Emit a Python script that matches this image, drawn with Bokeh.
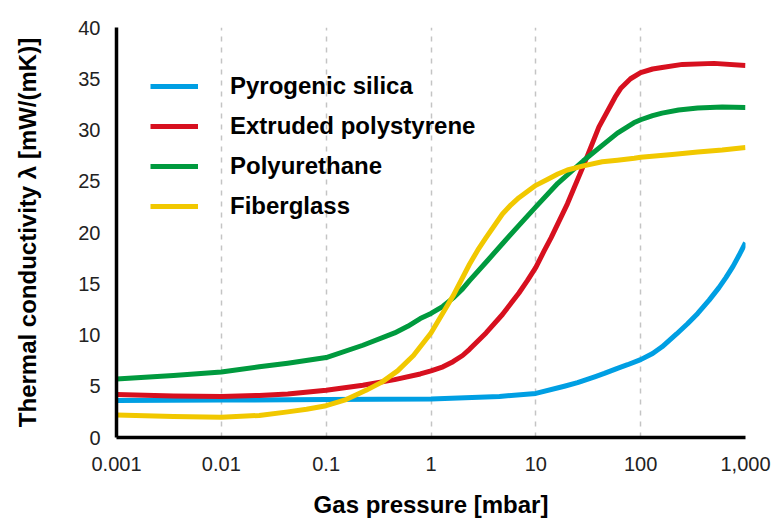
from bokeh.plotting import figure
from bokeh.models import Range1d, FixedTicker, Legend, LegendItem
from bokeh.embed import file_html
from bokeh.resources import INLINE

# ---- data ----
x_ticks = [0.001, 0.01, 0.1, 1, 10, 100, 1000]
x_tick_labels = ["0.001", "0.01", "0.1", "1", "10", "100", "1,000"]
y_ticks = [0, 5, 10, 15, 20, 25, 30, 35, 40]

series_names = ["Pyrogenic silica", "Extruded polystyrene", "Polyurethane", "Fiberglass"]
series_colors = ["#009FE3", "#D7101F", "#009A3E", "#F1C800"]

silica_p = [0.001, 0.01, 0.1, 1, 4.5, 10, 18.7, 25, 37, 45, 60, 75, 100, 130, 160, 220, 280,
            350, 450, 556, 650, 760, 870, 1000]
silica_k = [3.6, 3.65, 3.7, 3.75, 4.0, 4.3, 5.0, 5.35, 5.95, 6.25, 6.75, 7.1, 7.6, 8.2, 8.85,
            10.1, 11.1, 12.1, 13.4, 14.6, 15.6, 16.7, 17.8, 19.0]

xps_p = [0.001, 0.0035, 0.01, 0.023, 0.043, 0.1, 0.224, 0.45, 0.79, 1, 1.3, 1.62, 2.0, 2.33,
         3.35, 4.8, 6.9, 8.3, 10, 12, 14, 20, 28.4, 40, 57, 65, 80, 100, 130, 160, 250, 500, 1000]
xps_k = [4.2, 4.05, 4.0, 4.1, 4.25, 4.6, 5.1, 5.65, 6.2, 6.5, 6.9, 7.4, 8.0, 8.6,
         10.2, 12.0, 14.1, 15.3, 16.6, 18.2, 19.5, 22.8, 26.5, 30.3, 33.2, 34.1, 35.0, 35.6,
         35.95, 36.1, 36.4, 36.5, 36.3]

pur_p = [0.001, 0.0035, 0.01, 0.023, 0.043, 0.1, 0.224, 0.45, 0.6, 0.79, 1, 1.3, 1.62, 2,
         2.33, 3.35, 4.8, 6.9, 10, 16.2, 28.4, 43, 60, 86, 100, 130, 160, 230, 350, 600, 1000]
pur_k = [5.7, 6.05, 6.4, 6.9, 7.25, 7.8, 9.0, 10.2, 10.85, 11.6, 12.1, 12.8, 13.6, 14.5,
         15.3, 17.1, 18.9, 20.7, 22.5, 24.8, 27.0, 28.5, 29.7, 30.7, 31.0, 31.4, 31.65, 31.95,
         32.15, 32.25, 32.2]

fg_p = [0.001, 0.0035, 0.01, 0.023, 0.043, 0.065, 0.1, 0.155, 0.24, 0.34, 0.48, 0.68, 1, 1.4,
        1.62, 2.33, 2.8, 3.35, 4.8, 5.8, 6.9, 10, 13, 16.2, 20, 28.4, 43, 60, 87, 100, 200,
        350, 600, 1000]
fg_k = [2.2, 2.05, 1.98, 2.15, 2.5, 2.75, 3.1, 3.7, 4.6, 5.4, 6.5, 8.0, 10.2, 12.7,
        13.8, 16.9, 18.3, 19.5, 21.8, 22.7, 23.4, 24.6, 25.2, 25.7, 26.1, 26.5, 26.9, 27.05,
        27.25, 27.35, 27.6, 27.85, 28.05, 28.3]

series_x = [silica_p, xps_p, pur_p, fg_p]
series_y = [silica_k, xps_k, pur_k, fg_k]

FONT = "Liberation Sans"

p = figure(width=780, height=520, output_backend="svg", toolbar_location=None,
           x_axis_type="log", x_range=Range1d(0.001, 1000), y_range=Range1d(0, 40),
           min_border_left=116, min_border_right=35, min_border_top=27, min_border_bottom=83)
p.outline_line_color = None
p.background_fill_color = "white"
p.border_fill_color = "white"

renderers = []
for xs, ys, c in zip(series_x, series_y, series_colors):
    r = p.line(xs, ys, line_color=c, line_width=5, line_join="round")
    renderers.append(r)

# axes
xa = p.xaxis[0]
xa.ticker = FixedTicker(ticks=x_ticks)
xa.major_label_overrides = dict(zip(x_ticks, x_tick_labels))
ya = p.yaxis[0]
ya.ticker = FixedTicker(ticks=y_ticks)

for ax in (xa, ya):
    ax.axis_line_color = "black"
    ax.axis_line_width = 3.5
    ax.major_tick_line_color = None
    ax.minor_tick_line_color = None
    ax.major_tick_out = 0
    ax.major_tick_in = 0
    ax.major_label_text_font = FONT
    ax.major_label_text_font_size = "20px"
    ax.major_label_text_color = "#222222"
    ax.axis_label_text_font = FONT
    ax.axis_label_text_font_size = "24px"
    ax.axis_label_text_font_style = "bold"
    ax.axis_label_text_color = "black"

xa.axis_label = "Gas pressure [mbar]"
ya.axis_label = "Thermal conductivity λ [mW/(mK)]"
xa.major_label_standoff = 19
ya.major_label_standoff = 16
xa.axis_label_standoff = 17
ya.axis_label_standoff = 34

p.ygrid.grid_line_color = None
p.xgrid.grid_line_color = "#c4c4c4"
p.xgrid.grid_line_width = 1.5
p.xgrid.grid_line_dash = "5 6"

legend = Legend(items=[LegendItem(label=n, renderers=[r]) for n, r in zip(series_names, renderers)],
                location=(34, 211), orientation="vertical")
legend.margin = 0
legend.padding = 0
legend.spacing = 0
legend.glyph_width = 48
legend.glyph_height = 40
legend.label_height = 40
legend.label_standoff = 32
legend.label_text_font = FONT
legend.label_text_font_size = "24px"
legend.label_text_font_style = "bold"
legend.label_text_color = "black"
legend.border_line_color = None
legend.background_fill_alpha = 0
p.add_layout(legend)

open("out.html", "w").write(file_html(p, INLINE))
